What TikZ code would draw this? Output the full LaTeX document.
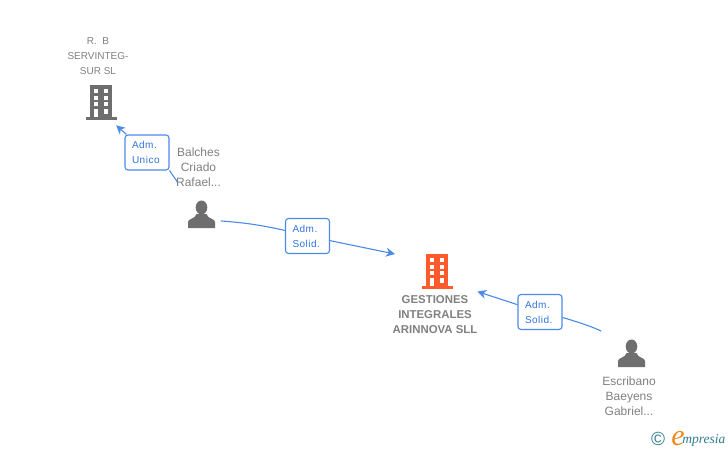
\documentclass[tikz,border=0pt]{standalone}
\usepackage{fontspec}
\setmainfont{Liberation Sans}
\newfontfamily\logofont{Liberation Serif}
\usetikzlibrary{arrows.meta,positioning}

\definecolor{labelgray}{HTML}{808080}
\definecolor{icongray}{HTML}{6E6E6E}
\definecolor{iconorange}{HTML}{FF5A2C}
\definecolor{linkblue}{HTML}{4A8BE8}
\definecolor{rolecolor}{HTML}{2F74E0}
\definecolor{logoteal}{HTML}{2F7C90}
\definecolor{logoorange}{HTML}{F08A1E}

\tikzset{
    building/.pic={
        \fill[pic actions] (-11,-17) rectangle (11,15);
        \fill[pic actions] (-15.5,15) rectangle (16,17.5);
        \foreach \wy in {-13,-6.5,0}{
            \fill[white] (-7.5,\wy) rectangle (-2.7,\wy+4.4);
            \fill[white] (2.5,\wy) rectangle (7.3,\wy+4.4);
        }
        \fill[white] (-7.5,7) rectangle (-2.7,15);
        \fill[white] (2.5,7) rectangle (7.3,11.5);
    },
    person/.pic={
        \fill[pic actions] (0,-7.5) ellipse (5.8 and 7);
        \fill[pic actions] (-13.5,13) -- (-13.5,7) .. controls (-13.5,3.5) and (-6,4) .. (-5,-1)
            -- (5,-1) .. controls (6,4) and (13.5,3.5) .. (13.5,7) -- (13.5,13) -- cycle;
    }
}

\begin{document}
\begin{tikzpicture}[x=1pt,y=-1pt,>={Stealth[length=9pt,width=9pt]},semithick]
    \tikzstyle{spot}=[circle,inner sep=0pt,minimum size=40pt]
    \tikzstyle{caption}=[text=labelgray,align=center,inner sep=0pt,font=\fontsize{12}{15}\selectfont]
    \tikzstyle{role}=[draw=linkblue,fill=white,rounded corners=3pt,line width=1.1pt,minimum width=44pt,minimum height=35pt,inner sep=0pt,text width=30pt,align=left,text=rolecolor,font=\fontsize{10}{15}\selectfont\addfontfeature{LetterSpace=5}]
    \tikzstyle{link}=[draw=linkblue,line width=1.1pt]

    \useasboundingbox (0,0) rectangle (728,450);

    % icons
    \pic[fill=icongray] at (101,102) {building};
    \pic[fill=iconorange] at (437,271) {building};
    \pic[fill=icongray] at (201.5,215) {person};
    \pic[fill=icongray] at (631.5,354) {person};

    \node[spot,minimum size=55pt] (rb) at (101,102) {};
    \node[spot,minimum size=90pt] (gestiones) at (437,271) {};
    \node[spot] (balches) at (201.5,215) {};
    \node[spot] (escribano) at (631.5,354) {};

    % names
    \node[caption,font=\fontsize{10}{15}\selectfont] (rbName) at (98,56) {R.\ \ B\\SERVINTEG-\\SUR SL};
    \node[caption] (balchesName) at (198.5,167) {Balches\\Criado\\Rafael...};
    \node[caption,font=\fontsize{11.4}{15}\selectfont\bfseries] (gestionesName) at (435,315) {GESTIONES\\INTEGRALES\\ARINNOVA SLL};
    \node[caption] (escribanoName) at (629,396) {Escribano\\Baeyens\\Gabriel...};

    % roles
    \node[role] (admUnico) at (147,152.5) {Adm.\\Unico};
    \node[role] (admSolidA) at (307.5,236) {Adm.\\Solid.};
    \node[role] (admSolidB) at (540,312) {Adm.\\Solid.};

    % links
    \draw[link,shorten <=20pt] (balches.128) -- (admUnico.south east);
    \draw[link,->] (admUnico) -- (rb.-57);
    \draw[link] (balches.-17) to[bend left=4] (admSolidA);
    \draw[link,->] (admSolidA) -- (gestiones.158);
    \draw[link,shorten <=18pt] (escribano.135) to[bend right=6] (admSolidB);
    \draw[link,->] (admSolidB) -- (gestiones.-27);

    % logo
    \node[text=logoteal,inner sep=0pt,font=\fontsize{19}{19}\selectfont] (logoMark) at (658,439) {©};
    \node[text=logoorange,inner sep=0pt,anchor=base,font=\logofont\itshape\fontsize{30}{30}\selectfont] (logoE) at (678,445) {e};
    \node[text=logoteal,inner sep=0pt,anchor=base west,font=\logofont\itshape\fontsize{13.5}{15}\selectfont] (logoText) at (682,443) {mpresia};
\end{tikzpicture}
\end{document}
